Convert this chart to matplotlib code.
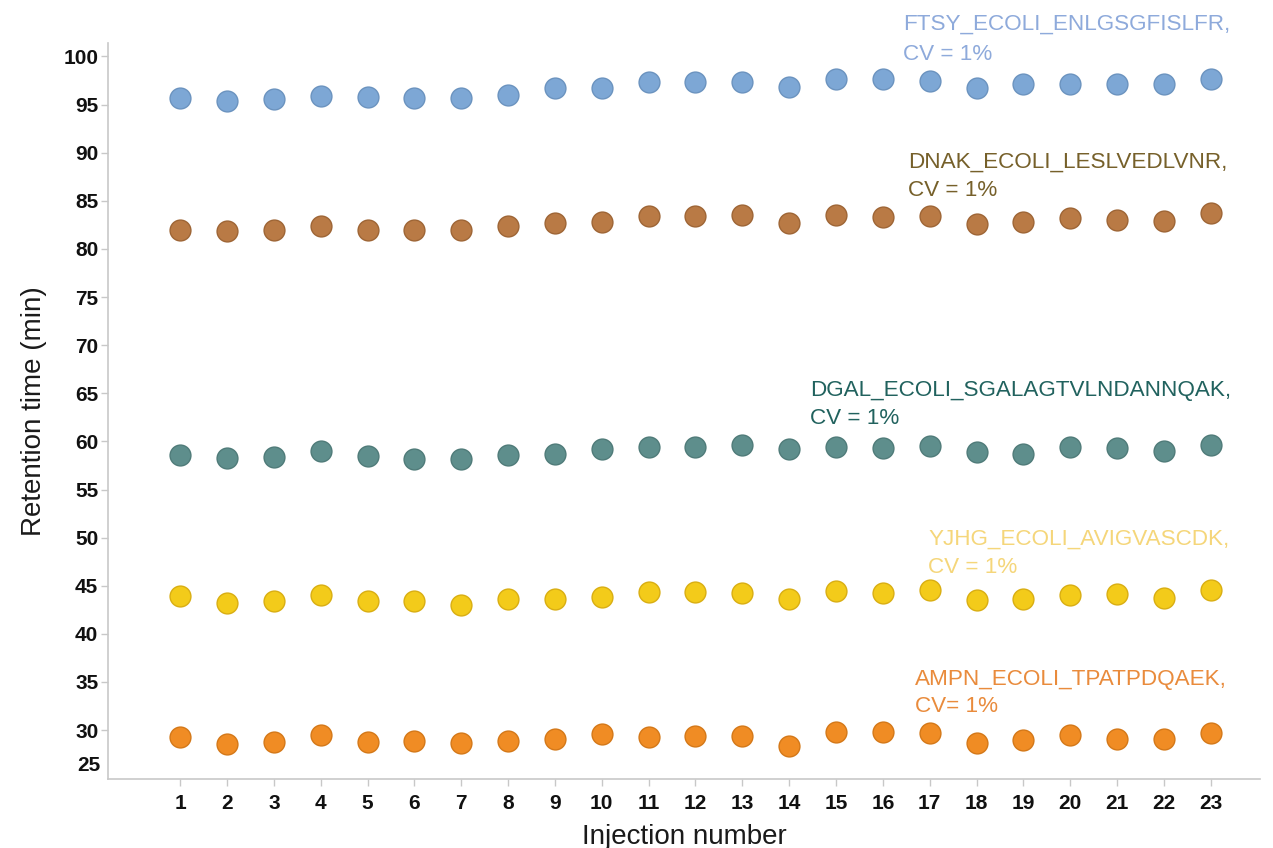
import matplotlib
matplotlib.use('Agg')
import matplotlib.pyplot as plt
import matplotlib.transforms as mtransforms

plt.rcParams['font.family'] = ['Liberation Sans', 'DejaVu Sans']

injection = list(range(1, 24))

ftsy = [95.65, 95.4, 95.55, 95.9, 95.75, 95.65, 95.65, 96.0, 96.7, 96.75, 97.3, 97.3,
        97.35, 96.85, 97.7, 97.7, 97.45, 96.75, 97.15, 97.15, 97.15, 97.15, 97.7]
dnak = [82.0, 81.85, 82.0, 82.35, 81.95, 81.95, 82.0, 82.35, 82.7, 82.85, 83.45, 83.4,
        83.55, 82.7, 83.55, 83.35, 83.4, 82.6, 82.75, 83.2, 83.0, 82.9, 83.75]
dgal = [58.6, 58.25, 58.35, 59.05, 58.5, 58.15, 58.15, 58.6, 58.7, 59.25, 59.4, 59.4,
        59.6, 59.2, 59.45, 59.35, 59.5, 58.85, 58.7, 59.4, 59.3, 59.05, 59.6]
yjhg = [43.95, 43.2, 43.4, 44.05, 43.4, 43.4, 42.95, 43.6, 43.6, 43.8, 44.3, 44.3,
        44.2, 43.6, 44.5, 44.2, 44.55, 43.55, 43.6, 44.05, 44.15, 43.7, 44.55]
ampn = [29.3, 28.6, 28.75, 29.45, 28.75, 28.85, 28.65, 28.85, 29.1, 29.55, 29.3, 29.4,
        29.35, 28.4, 29.8, 29.8, 29.65, 28.65, 29.0, 29.45, 29.1, 29.1, 29.65]

series = [ftsy, dnak, dgal, yjhg, ampn]
fills = ['#7da7d5', '#b97a45', '#5e8e8c', '#f3cb1a', '#f08c24']
edges = ['#6b93bf', '#9e6535', '#4f7b79', '#d9ae12', '#d47818']

labels = [
    ('FTSY_ECOLI_ENLGSGFISLFR,', 'CV = 1%'),
    ('DNAK_ECOLI_LESLVEDLVNR,', 'CV = 1%'),
    ('DGAL_ECOLI_SGALAGTVLNDANNQAK,', 'CV = 1%'),
    ('YJHG_ECOLI_AVIGVASCDK,', 'CV = 1%'),
    ('AMPN_ECOLI_TPATPDQAEK,', 'CV= 1%'),
]
label_colors = ['#8eaadb', '#76602a', '#21625e', '#f5d67a', '#e98b3c']
# left edge and two baselines, in pixels of the 1273x848 figure
label_pos = [(903, 30, 60), (908, 168, 196), (810, 396, 424), (928, 545, 573), (915, 685, 712)]

W, H = 1273, 848
fig = plt.figure(figsize=(W / 100, H / 100), dpi=100)
ax = fig.add_axes([108 / W, 1 - 779 / H, (1260 - 108) / W, (779 - 43) / H])

for vals, fc, ec in zip(series, fills, edges):
    ax.scatter(injection, vals, s=225, color=fc, edgecolors=ec, linewidths=1, zorder=3)

ax.set_xlim(-0.54, 24.05)
ax.set_ylim(24.92, 101.4)
ax.set_xticks(injection)
ax.set_yticks(range(30, 101, 5))

for side in ('top', 'right'):
    ax.spines[side].set_visible(False)
for side in ('left', 'bottom'):
    ax.spines[side].set_color('#c8c8c8')
    ax.spines[side].set_linewidth(1.2)

ax.tick_params(axis='both', color='#c8c8c8', length=5, width=1, labelsize=15,
               labelcolor='#111111')
ax.tick_params(axis='x', pad=6)
ax.tick_params(axis='y', pad=2)
for lab in ax.get_xticklabels() + ax.get_yticklabels():
    lab.set_fontweight('bold')

# the bottom "25" sits a little above the axis corner, without a tick
trans = mtransforms.blended_transform_factory(ax.transAxes, ax.transData)
ax.text(-7 / (1260 - 108), 26.35, '25', transform=trans, ha='right', va='center',
        fontsize=15, fontweight='bold', color='#111111')

ax.set_xlabel('Injection number', fontsize=20, color='#1a1a1a', labelpad=8)
ax.set_ylabel('Retention time (min)', fontsize=20, color='#1a1a1a', labelpad=12)

for (l1, l2), col, (px, b1, b2) in zip(labels, label_colors, label_pos):
    fig.text(px / W, 1 - b1 / H, l1, color=col, fontsize=16.2, va='baseline', ha='left')
    fig.text(px / W, 1 - b2 / H, l2, color=col, fontsize=16.2, va='baseline', ha='left')

fig.savefig('out.png', dpi=100, facecolor='white')
